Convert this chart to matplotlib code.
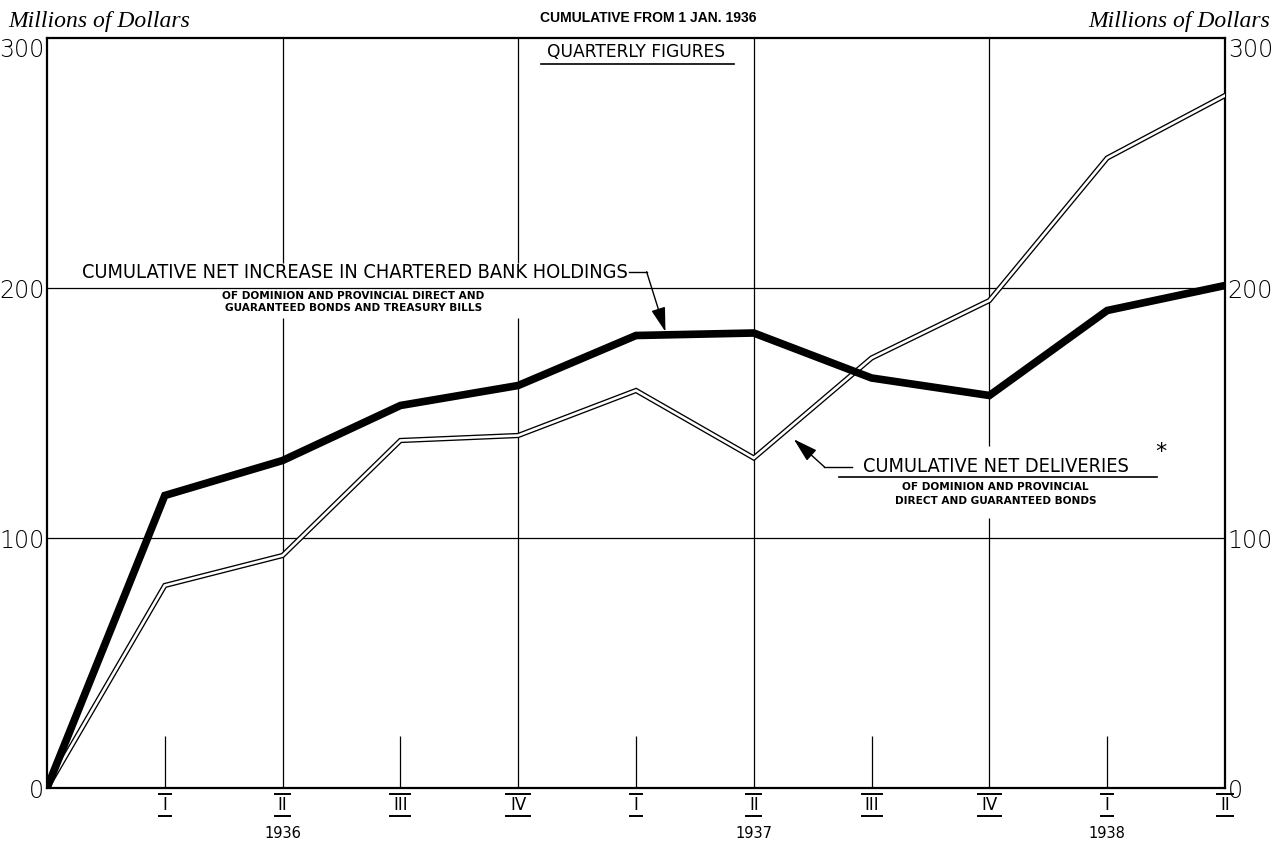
import matplotlib.pyplot as plt
import numpy as np

# quarters from 1 Jan 1936 (0) to end of II quarter 1938 (10)
quarters = np.arange(0, 11)
bank_holdings = [0, 117, 131, 153, 161, 181, 182, 164, 157, 191, 201]
net_deliveries = [0, 81, 93, 139, 141, 159, 132, 172, 195, 252, 277]

quarter_labels = ["I", "II", "III", "IV", "I", "II", "III", "IV", "I", "II"]
year_labels = ["1936", "1937", "1938"]
year_pos = [2, 6, 9]

fig = plt.figure(figsize=(12.77, 8.43), dpi=100)
ax = fig.add_axes([47/1277, 55/843, (1225-47)/1277, (788-38)/843])
ax.set_xlim(0, 10)
ax.set_ylim(0, 300)

for s in ax.spines.values():
    s.set_linewidth(1.6)

# grid lines, broken where the labels sit
ax.hlines([100, 200], 0, 10, color="k", lw=0.9, zorder=1)
ax.vlines([2, 4], 0, 188, color="k", lw=0.9, zorder=1)
ax.vlines([2, 4], 210, 300, color="k", lw=0.9, zorder=1)
ax.vlines(6, 0, 300, color="k", lw=0.9, zorder=1)
ax.vlines(8, 0, 108, color="k", lw=0.9, zorder=1)
ax.vlines(8, 137, 300, color="k", lw=0.9, zorder=1)
# short quarter ticks
ax.vlines([1, 3, 5, 7, 9], 0, 21, color="k", lw=0.9, zorder=1)

# lines
ax.plot(quarters, bank_holdings, color="k", lw=5.5, solid_joinstyle="miter", zorder=4)
ax.plot(quarters, net_deliveries, color="k", lw=3.8, solid_joinstyle="miter", zorder=3)
ax.plot(quarters, net_deliveries, color="white", lw=1.9, solid_joinstyle="miter", zorder=3)

# y tick labels on both sides
ax.set_xticks([])
ax.set_yticks([0, 100, 200, 300])
ax.tick_params(axis="y", length=0, labelsize=17, pad=2, labelright=True)
for lab in ax.get_yticklabels(which="both"):
    lab.set_fontfamily("DejaVu Sans")
    lab.set_fontweight("light")
for t in ax.yaxis.get_major_ticks()[-1:]:
    t.label1.set_verticalalignment("top")
    t.label2.set_verticalalignment("top")

fig.text(8/1277, 1 - 21/843, "Millions of Dollars", fontsize=17, style="italic",
         family="Liberation Serif", va="center", ha="left")
fig.text(1270/1277, 1 - 21/843, "Millions of Dollars", fontsize=17, style="italic",
         family="Liberation Serif", va="center", ha="right")
fig.text(648/1277, 1 - 18/843, "CUMULATIVE FROM 1 JAN. 1936", fontsize=10, weight="bold",
         family="Liberation Sans", va="center", ha="center")

# quarterly figures header
ax.text(5.0, 294.5, "QUARTERLY FIGURES", fontsize=12.3, family="DejaVu Sans",
        ha="center", va="center")
ax.plot([4.19, 5.83], [289.7, 289.7], color="k", lw=1.2)

# quarter labels below axis with over and under bars
half_w = {"I": 0.05, "II": 0.065, "III": 0.085, "IV": 0.1}
for q, lab in zip(quarters[1:], quarter_labels):
    ax.text(q, -7.0, lab, fontsize=12, family="DejaVu Sans", ha="center", va="center",
            clip_on=False)
    w = half_w[lab]
    ax.plot([q - w, q + w], [-2.3, -2.3], color="k", lw=1.4, clip_on=False)
    ax.plot([q - w, q + w], [-11.3, -11.3], color="k", lw=1.4, clip_on=False)
for p, y in zip(year_pos, year_labels):
    ax.text(p, -18, y, fontsize=10.5, family="DejaVu Sans", ha="center", va="center",
            clip_on=False)

arrow_style = "-|>,head_length=0.75,head_width=0.22"

# label for bank holdings
ax.text(2.615, 206.4, "CUMULATIVE NET INCREASE IN CHARTERED BANK HOLDINGS",
        fontsize=14.3, family="DejaVu Sans", stretch="condensed", ha="center", va="center")
ax.text(2.6, 196.8, "OF DOMINION AND PROVINCIAL DIRECT AND", fontsize=7.6,
        weight="bold", family="DejaVu Sans", ha="center", va="center")
ax.text(2.6, 192.0, "GUARANTEED BONDS AND TREASURY BILLS", fontsize=7.6,
        weight="bold", family="DejaVu Sans", ha="center", va="center")
ax.plot([4.94, 5.09], [206.5, 206.5], color="k", lw=1.0)
ax.annotate("", xy=(5.25, 182.5), xytext=(5.09, 206.5),
            arrowprops=dict(arrowstyle=arrow_style, color="k",
                            lw=1.0, mutation_scale=20, shrinkA=0, shrinkB=0))

# label for net deliveries
ax.text(8.056, 128.6, "CUMULATIVE NET DELIVERIES", fontsize=14.3, family="DejaVu Sans",
        stretch="condensed", ha="center", va="center")
ax.text(9.46, 134.5, "*", fontsize=16, family="DejaVu Sans", ha="center", va="center")
ax.plot([6.72, 9.42], [124.3, 124.3], color="k", lw=1.2)
ax.text(8.05, 120.2, "OF DOMINION AND PROVINCIAL", fontsize=7.6, weight="bold",
        family="DejaVu Sans", ha="center", va="center")
ax.text(8.05, 114.6, "DIRECT AND GUARANTEED BONDS", fontsize=7.6, weight="bold",
        family="DejaVu Sans", ha="center", va="center")
ax.plot([6.83, 6.6], [128.4, 128.4], color="k", lw=1.0)
ax.annotate("", xy=(6.34, 139.5), xytext=(6.6, 128.4),
            arrowprops=dict(arrowstyle=arrow_style, color="k",
                            lw=1.0, mutation_scale=20, shrinkA=0, shrinkB=0))

fig.savefig("out.png", dpi=100)
